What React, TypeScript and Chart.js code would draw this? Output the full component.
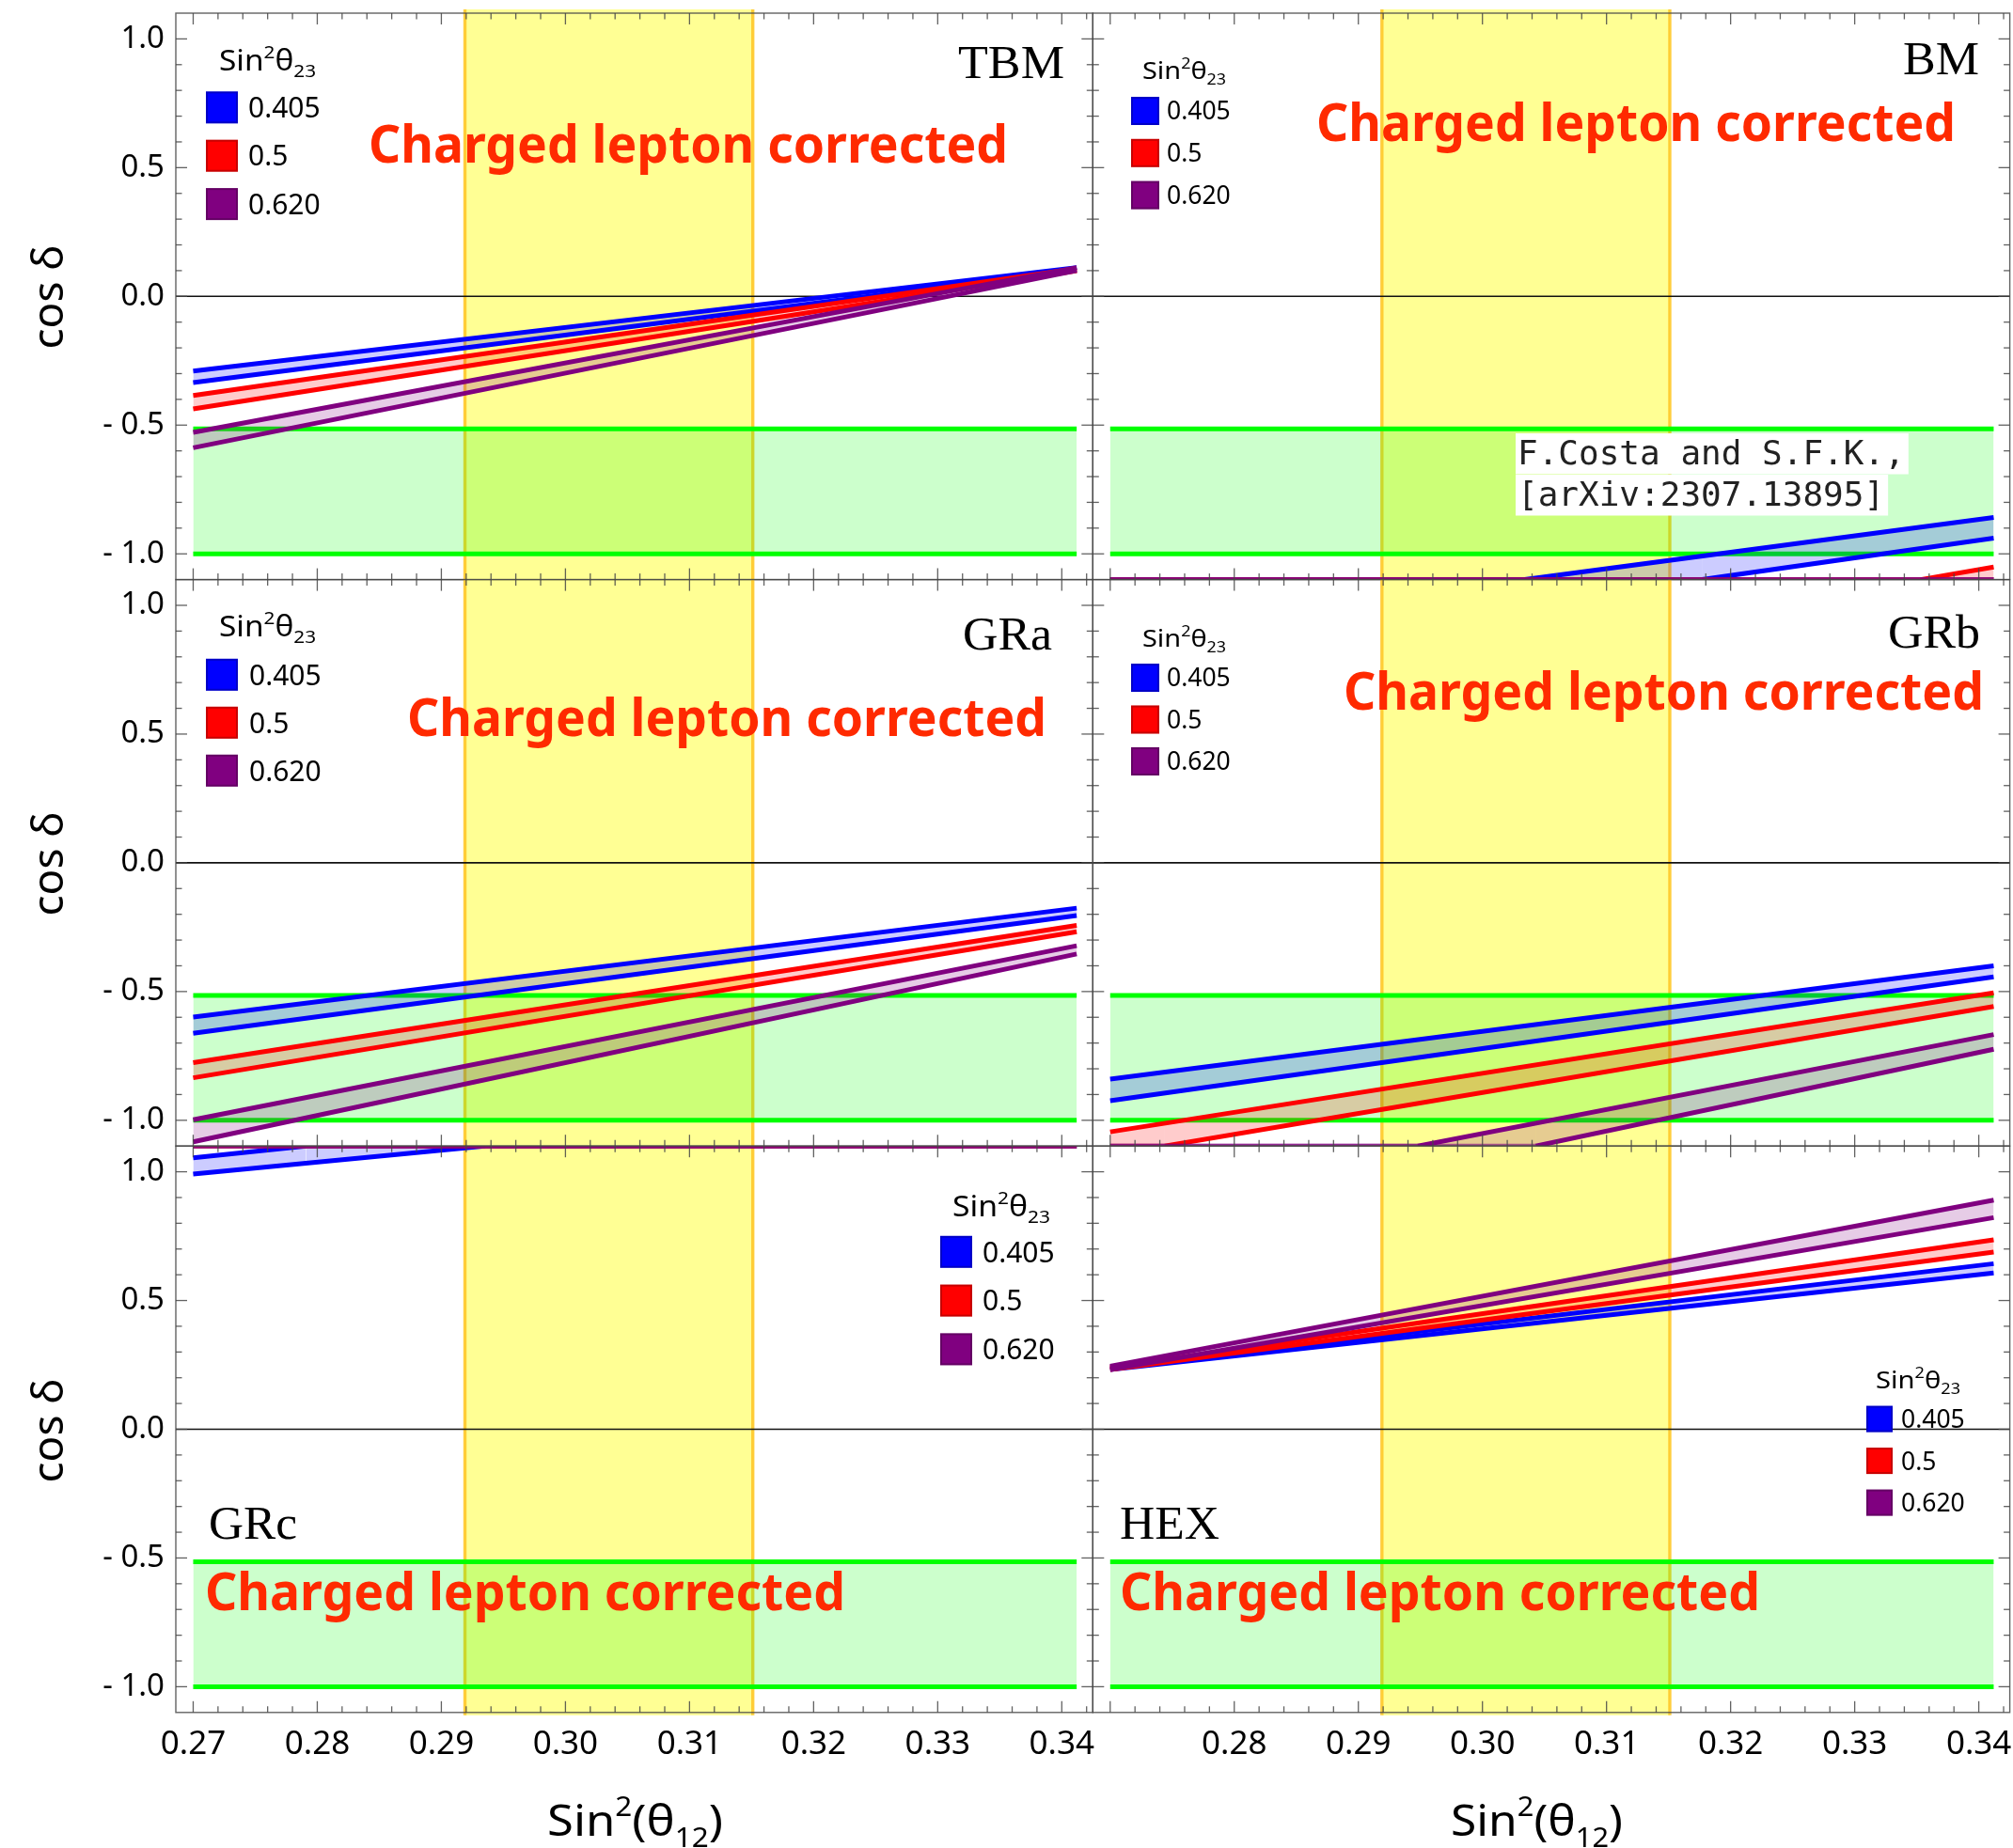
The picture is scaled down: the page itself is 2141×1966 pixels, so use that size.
import React, { useEffect, useRef } from 'react';
import { Chart, registerables } from 'chart.js';

Chart.register(...registerables);

type Pt = [number, number];

// ---------------- data ----------------
const X_TICKS = [0.27, 0.28, 0.29, 0.3, 0.31, 0.32, 0.33, 0.34];
const Y_TICKS = [-1.0, -0.5, 0.0, 0.5, 1.0];
const SIN23_VALUES = ['0.405', '0.5', '0.620'];
const YELLOW_BAND: Pt = [0.2919, 0.3151];
const GREEN_UPPER: Pt[] = [[0.27, -0.515], [0.3412, -0.515]];
const GREEN_LOWER: Pt[] = [[0.27, -1.0], [0.3412, -1.0]];

// TBM
const TBM_BLUE_UP: Pt[] = [[0.27, -0.29], [0.3412, 0.112]];
const TBM_BLUE_LO: Pt[] = [[0.27, -0.335], [0.3412, 0.103]];
const TBM_RED_UP: Pt[] = [[0.27, -0.385], [0.3412, 0.108]];
const TBM_RED_LO: Pt[] = [[0.27, -0.437], [0.3412, 0.1]];
const TBM_PURPLE_UP: Pt[] = [[0.27, -0.528], [0.3412, 0.112]];
const TBM_PURPLE_LO: Pt[] = [[0.27, -0.588], [0.3412, 0.1]];
// BM
const BM_BLUE_UP: Pt[] = [[0.27, -1.1], [0.3034, -1.1], [0.3412, -0.859]];
const BM_BLUE_LO: Pt[] = [[0.27, -1.1], [0.3177, -1.1], [0.3412, -0.939]];
const BM_RED_UP: Pt[] = [[0.27, -1.1], [0.3353, -1.1], [0.3412, -1.051]];
const BM_RED_LO: Pt[] = [[0.27, -1.1], [0.3412, -1.1]];
const BM_PURPLE_UP: Pt[] = [[0.27, -1.1], [0.3412, -1.1]];
const BM_PURPLE_LO: Pt[] = [[0.27, -1.1], [0.3412, -1.1]];
// GRa
const GRA_BLUE_UP: Pt[] = [[0.27, -0.599], [0.3412, -0.176]];
const GRA_BLUE_LO: Pt[] = [[0.27, -0.662], [0.3412, -0.205]];
const GRA_RED_UP: Pt[] = [[0.27, -0.776], [0.3412, -0.243]];
const GRA_RED_LO: Pt[] = [[0.27, -0.835], [0.3412, -0.268]];
const GRA_PURPLE_UP: Pt[] = [[0.27, -0.998], [0.3412, -0.322]];
const GRA_PURPLE_LO: Pt[] = [[0.27, -1.084], [0.3412, -0.354]];
// GRb
const GRB_BLUE_UP: Pt[] = [[0.27, -0.84], [0.3412, -0.4]];
const GRB_BLUE_LO: Pt[] = [[0.27, -0.924], [0.3412, -0.443]];
const GRB_RED_UP: Pt[] = [[0.27, -1.045], [0.3412, -0.505]];
const GRB_RED_LO: Pt[] = [[0.27, -1.1], [0.2744, -1.1], [0.3412, -0.558]];
const GRB_PURPLE_UP: Pt[] = [[0.27, -1.1], [0.2948, -1.1], [0.3412, -0.667]];
const GRB_PURPLE_LO: Pt[] = [[0.27, -1.1], [0.3043, -1.1], [0.3412, -0.724]];
// GRc
const GRC_BLUE_UP: Pt[] = [[0.27, 1.054], [0.2791, 1.1], [0.3412, 1.1]];
const GRC_BLUE_LO: Pt[] = [[0.27, 0.991], [0.2935, 1.1], [0.3412, 1.1]];
const GRC_RED_UP: Pt[] = [[0.27, 1.1], [0.3412, 1.1]];
const GRC_RED_LO: Pt[] = [[0.27, 1.1], [0.3412, 1.1]];
const GRC_PURPLE_UP: Pt[] = [[0.27, 1.1], [0.3412, 1.1]];
const GRC_PURPLE_LO: Pt[] = [[0.27, 1.1], [0.3412, 1.1]];
// HEX
const HEX_BLUE_UP: Pt[] = [[0.27, 0.238], [0.3412, 0.643]];
const HEX_BLUE_LO: Pt[] = [[0.27, 0.232], [0.3412, 0.607]];
const HEX_RED_UP: Pt[] = [[0.27, 0.24], [0.3412, 0.736]];
const HEX_RED_LO: Pt[] = [[0.27, 0.232], [0.3412, 0.688]];
const HEX_PURPLE_UP: Pt[] = [[0.27, 0.245], [0.3412, 0.89]];
const HEX_PURPLE_LO: Pt[] = [[0.27, 0.232], [0.3412, 0.822]];

// ---------------- layout / style ----------------
const W = 2141;
const H = 1966;
const M = 80; // canvas margin beyond the page on every side
const X_MIN = 0.2686;
const X_MAX = 0.3425;
const Y_MIN = -1.1;
const Y_MAX = 1.1;
const COLS: Pt[] = [[187, 1162.3], [1162.3, 2137.6]];
const ROWS: Pt[] = [[14, 616.6], [616.6, 1219.2], [1219.2, 1821.8]];
const YAXIS_W = 150;
const XAXIS_H = 100;
const LINE_W = 5;

const LINE_COLORS = ['#0000ff', '#ff0000', '#800080'];
const FILL_COLORS = ['rgba(0,0,255,0.2)', 'rgba(255,0,0,0.2)', 'rgba(128,0,128,0.2)'];
const EDGE_COLORS = ['rgba(0,0,255,0.5)', 'rgba(255,0,0,0.5)', 'rgba(128,0,128,0.6)'];
const SANS = "'Noto Sans', 'DejaVu Sans', sans-serif";
const SERIF = "'Liberation Serif', 'DejaVu Serif', serif";
const MONO = "'DejaVu Sans Mono', 'Liberation Mono', monospace";
const CLC_TEXT = 'Charged lepton corrected';
const CLC_COLOR = 'rgb(255,42,0)';

type Legend = {
  x: number; top: number; size: number; step: number; labelX: number; font: number;
  titleX: number; titleBase: number; titleW: number; titleSize: number;
};
type Panel = {
  name: string; col: number; row: number;
  bands: Pt[][][]; // [color][upper, lower]
  label: { x: number; base: number; w: number };
  clc: { x: number; base: number; w: number };
  legend: Legend;
  cite?: boolean;
};

const PANELS: Panel[] = [
  {
    name: 'TBM', col: 0, row: 0,
    bands: [[TBM_BLUE_UP, TBM_BLUE_LO], [TBM_RED_UP, TBM_RED_LO], [TBM_PURPLE_UP, TBM_PURPLE_LO]],
    label: { x: 1019, base: 83, w: 113 },
    clc: { x: 392, base: 173, w: 680 },
    legend: { x: 219, top: 97.3, size: 34, step: 51.4, labelX: 264, font: 30, titleX: 233, titleBase: 75, titleW: 103, titleSize: 30 },
  },
  {
    name: 'BM', col: 1, row: 0,
    bands: [[BM_BLUE_UP, BM_BLUE_LO], [BM_RED_UP, BM_RED_LO], [BM_PURPLE_UP, BM_PURPLE_LO]],
    label: { x: 2024, base: 79, w: 81 },
    clc: { x: 1400, base: 150, w: 680 },
    legend: { x: 1203, top: 103, size: 30, step: 44.8, labelX: 1241, font: 26.5, titleX: 1215, titleBase: 84, titleW: 89, titleSize: 26 },
    cite: true,
  },
  {
    name: 'GRa', col: 0, row: 1,
    bands: [[GRA_BLUE_UP, GRA_BLUE_LO], [GRA_RED_UP, GRA_RED_LO], [GRA_PURPLE_UP, GRA_PURPLE_LO]],
    label: { x: 1024, base: 691, w: 95 },
    clc: { x: 433, base: 783, w: 680 },
    legend: { x: 219, top: 700.8, size: 34, step: 51, labelX: 265, font: 30, titleX: 233, titleBase: 677, titleW: 103, titleSize: 30 },
  },
  {
    name: 'GRb', col: 1, row: 1,
    bands: [[GRB_BLUE_UP, GRB_BLUE_LO], [GRB_RED_UP, GRB_RED_LO], [GRB_PURPLE_UP, GRB_PURPLE_LO]],
    label: { x: 2008, base: 689, w: 98 },
    clc: { x: 1429, base: 755, w: 681 },
    legend: { x: 1203, top: 706, size: 30, step: 44.5, labelX: 1241, font: 26.5, titleX: 1215, titleBase: 688, titleW: 89, titleSize: 26 },
  },
  {
    name: 'GRc', col: 0, row: 2,
    bands: [[GRC_BLUE_UP, GRC_BLUE_LO], [GRC_RED_UP, GRC_RED_LO], [GRC_PURPLE_UP, GRC_PURPLE_LO]],
    label: { x: 222, base: 1637, w: 94 },
    clc: { x: 218, base: 1713, w: 681 },
    legend: { x: 1000, top: 1314.8, size: 34, step: 51.8, labelX: 1045, font: 30, titleX: 1013, titleBase: 1294, titleW: 104, titleSize: 30 },
  },
  {
    name: 'HEX', col: 1, row: 2,
    bands: [[HEX_BLUE_UP, HEX_BLUE_LO], [HEX_RED_UP, HEX_RED_LO], [HEX_PURPLE_UP, HEX_PURPLE_LO]],
    label: { x: 1191, base: 1637, w: 106 },
    clc: { x: 1191, base: 1713, w: 681 },
    legend: { x: 1985, top: 1495.6, size: 28, step: 44.5, labelX: 2022, font: 26.5, titleX: 1995, titleBase: 1477, titleW: 90, titleSize: 26 },
  },
];

const Y_TITLE_CENTERS = [316, 919, 1522];
const X_TITLES = [{ x: 582, w: 187 }, { x: 1543, w: 183 }];
const X_TITLE_BASE = 1953;

// ---------------- helpers ----------------
type Run = { t: string; scale?: number; dy?: number };

function drawRuns(
  ctx: CanvasRenderingContext2D, runs: Run[], x: number, base: number, size: number,
  family: string, targetW?: number, color = '#000', weight = 'normal'
) {
  ctx.save();
  const widths = runs.map((r) => {
    ctx.font = `${weight} ${size * (r.scale ?? 1)}px ${family}`;
    return ctx.measureText(r.t).width;
  });
  const total = widths.reduce((a, b) => a + b, 0);
  const sx = targetW ? targetW / total : 1;
  ctx.translate(x, base);
  ctx.scale(sx, 1);
  ctx.fillStyle = color;
  ctx.textBaseline = 'alphabetic';
  ctx.textAlign = 'left';
  let cx = 0;
  runs.forEach((r, i) => {
    ctx.font = `${weight} ${size * (r.scale ?? 1)}px ${family}`;
    ctx.fillText(r.t, cx, (r.dy ?? 0) * size);
    cx += widths[i];
  });
  ctx.restore();
}

function seg(ctx: CanvasRenderingContext2D, x0: number, y0: number, x1: number, y1: number) {
  ctx.beginPath();
  ctx.moveTo(x0, y0);
  ctx.lineTo(x1, y1);
  ctx.stroke();
}

function makeDeco(p: Panel) {
  return {
    id: 'panelDeco' + p.name,
    beforeDatasetsDraw(chart: any) {
      const { ctx, chartArea: a } = chart;
      const xs = chart.scales.x;
      const ys = chart.scales.y;
      ctx.save();
      const x0 = xs.getPixelForValue(YELLOW_BAND[0]);
      const x1 = xs.getPixelForValue(YELLOW_BAND[1]);
      const yt = p.row === 0 ? a.top - 4 : a.top;
      const yb = p.row === 2 ? a.bottom + 3 : a.bottom;
      ctx.fillStyle = 'rgba(255,255,0,0.42)';
      ctx.fillRect(x0, yt, x1 - x0, yb - yt);
      ctx.strokeStyle = 'rgba(255,200,40,0.9)';
      ctx.lineWidth = 3.4;
      seg(ctx, x0, yt, x0, yb);
      seg(ctx, x1, yt, x1, yb);
      const y0 = ys.getPixelForValue(0);
      ctx.strokeStyle = '#111';
      ctx.lineWidth = 1.6;
      seg(ctx, a.left, y0, a.right, y0);
      ctx.restore();
    },
    afterDatasetsDraw(chart: any) {
      const { ctx, chartArea: a } = chart;
      const xs = chart.scales.x;
      const ys = chart.scales.y;
      ctx.save();
      // frame
      ctx.strokeStyle = 'rgba(70,70,70,0.85)';
      ctx.lineWidth = 1.4;
      ctx.strokeRect(a.left, a.top, a.right - a.left, a.bottom - a.top);
      // ticks (inward on all four sides)
      ctx.lineWidth = 1.3;
      for (let k = -1; k <= 37; k++) {
        const v = 0.27 + 0.002 * k;
        if (v < X_MIN || v > X_MAX) continue;
        const px = xs.getPixelForValue(v);
        const len = k % 5 === 0 ? 12 : 6.5;
        seg(ctx, px, a.bottom, px, a.bottom - len);
        seg(ctx, px, a.top, px, a.top + len);
      }
      for (let k = -10; k <= 10; k++) {
        const py = ys.getPixelForValue(k / 10);
        const len = k % 5 === 0 ? 12 : 6.5;
        seg(ctx, a.left, py, a.left + len, py);
        seg(ctx, a.right, py, a.right - len, py);
      }
      ctx.restore();

      // everything below is placed in page coordinates
      ctx.save();
      ctx.translate(M, M);
      // panel label (serif)
      drawRuns(ctx, [{ t: p.name }], p.label.x, p.label.base, 51, SERIF, p.label.w);
      // red annotation
      drawRuns(ctx, [{ t: CLC_TEXT }], p.clc.x, p.clc.base, 55, SANS, p.clc.w, CLC_COLOR, 'bold');

      // legend
      const L = p.legend;
      drawRuns(
        ctx,
        [{ t: 'Sin' }, { t: '2', scale: 0.62, dy: -0.42 }, { t: 'θ' }, { t: '23', scale: 0.62, dy: 0.22 }],
        L.titleX, L.titleBase, L.titleSize, SANS, L.titleW
      );
      SIN23_VALUES.forEach((lab, i) => {
        const top = L.top + i * L.step;
        ctx.save();
        ctx.fillStyle = LINE_COLORS[i];
        ctx.fillRect(L.x, top, L.size, L.size);
        ctx.strokeStyle = 'rgba(0,0,0,0.22)';
        ctx.lineWidth = 2;
        ctx.strokeRect(L.x + 1, top + 1, L.size - 2, L.size - 2);
        ctx.restore();
        drawRuns(ctx, [{ t: lab }], L.labelX, top + L.size / 2 + L.font * 0.357, L.font, SANS);
      });

      // citation
      if (p.cite) {
        const lines = ['F.Costa and S.F.K.,', '[arXiv:2307.13895]'];
        const bases = [494, 538];
        ctx.save();
        ctx.font = `36px ${MONO}`;
        lines.forEach((t, i) => {
          const w = ctx.measureText(t).width;
          ctx.fillStyle = '#fff';
          ctx.fillRect(1612, bases[i] - 33, w + 6, 43.5);
        });
        lines.forEach((t, i) => {
          ctx.fillStyle = '#222';
          ctx.textBaseline = 'alphabetic';
          ctx.fillText(t, 1614, bases[i]);
        });
        ctx.restore();
      }

      // y axis title
      if (p.col === 0) {
        ctx.save();
        ctx.translate(67, Y_TITLE_CENTERS[p.row]);
        ctx.rotate(-Math.PI / 2);
        ctx.font = `46px ${SANS}`;
        ctx.fillStyle = '#000';
        ctx.textAlign = 'center';
        ctx.textBaseline = 'alphabetic';
        ctx.fillText('cos δ', 0, 0);
        ctx.restore();
      }
      // x axis title
      if (p.row === 2) {
        const t = X_TITLES[p.col];
        drawRuns(
          ctx,
          [{ t: 'Sin' }, { t: '2', scale: 0.62, dy: -0.45 }, { t: '(θ' }, { t: '12', scale: 0.62, dy: 0.25 }, { t: ')' }],
          t.x, X_TITLE_BASE, 46, SANS, t.w
        );
      }
      ctx.restore();
    },
  };
}

function toPts(a: Pt[]) {
  return a.map(([x, y]) => ({ x, y }));
}

function lineDs(data: Pt[], color: string, edge: string, order: number, fill: any, bg?: string) {
  return {
    data: toPts(data),
    borderColor: color,
    borderWidth: LINE_W,
    pointRadius: 0,
    tension: 0,
    order,
    fill,
    backgroundColor: bg ?? 'rgba(0,0,0,0)',
    segment: {
      borderColor: (c: any) =>
        c.p0.parsed.y === c.p1.parsed.y && Math.abs(c.p0.parsed.y) >= 1.0999 ? edge : undefined,
    },
  };
}

function makeChart(canvas: HTMLCanvasElement, p: Panel) {
  const showY = p.col === 0;
  const showX = p.row === 2;
  const [cl, cr] = COLS[p.col];
  const [rt, rb] = ROWS[p.row];
  const datasets: any[] = [];
  datasets.push(lineDs(GREEN_LOWER, '#00ff00', '#00ff00', 100, false));
  datasets.push(lineDs(GREEN_UPPER, '#00ff00', '#00ff00', 100, '-1', 'rgba(0,255,0,0.2)'));
  p.bands.forEach((b, i) => {
    const order = 30 - i * 10;
    datasets.push(lineDs(b[1], LINE_COLORS[i], EDGE_COLORS[i], order, false));
    datasets.push(lineDs(b[0], LINE_COLORS[i], EDGE_COLORS[i], order, '-1', FILL_COLORS[i]));
  });
  const xTicks = p.col === 0 ? X_TICKS : X_TICKS.slice(1);
  const xScale: any = {
    type: 'linear',
    min: X_MIN,
    max: X_MAX,
    display: showX,
    grid: { display: false, drawTicks: false },
    border: { display: false },
    afterBuildTicks: (s: any) => {
      s.ticks = xTicks.map((v) => ({ value: v }));
    },
    ticks: {
      autoSkip: false,
      maxRotation: 0,
      padding: 13,
      color: '#000',
      font: { family: SANS, size: 35 },
      callback: (v: any) => Number(v).toFixed(2),
    },
  };
  if (showX) xScale.afterFit = (s: any) => { s.height = XAXIS_H; };
  const yScale: any = {
    type: 'linear',
    min: Y_MIN,
    max: Y_MAX,
    display: showY,
    grid: { display: false, drawTicks: false },
    border: { display: false },
    afterBuildTicks: (s: any) => {
      s.ticks = Y_TICKS.map((v) => ({ value: v }));
    },
    ticks: {
      autoSkip: false,
      padding: 12,
      color: '#000',
      font: { family: SANS, size: 33 },
      callback: (v: any) => {
        const n = Number(v);
        return n < 0 ? '- ' + Math.abs(n).toFixed(1) : n.toFixed(1);
      },
    },
  };
  if (showY) yScale.afterFit = (s: any) => { s.width = YAXIS_W; };
  return new Chart(canvas, {
    type: 'line',
    data: { datasets },
    plugins: [makeDeco(p)],
    options: {
      responsive: false,
      animation: false,
      devicePixelRatio: 1,
      layout: {
        autoPadding: false,
        padding: {
          left: cl + M - (showY ? YAXIS_W : 0),
          right: W + M - cr,
          top: rt + M,
          bottom: H + M - rb - (showX ? XAXIS_H : 0),
        },
      },
      plugins: { legend: { display: false }, tooltip: { enabled: false } },
      scales: { x: xScale, y: yScale },
    } as any,
  });
}

export default function App() {
  const refs = useRef<(HTMLCanvasElement | null)[]>([]);
  useEffect(() => {
    const charts = PANELS.map((p, i) => makeChart(refs.current[i] as HTMLCanvasElement, p));
    return () => charts.forEach((c) => c.destroy());
  }, []);
  return (
    <div style={{ position: 'absolute', left: 0, top: 0, width: W, height: H, background: '#fff', overflow: 'hidden' }}>
      {PANELS.map((p, i) => (
        <canvas
          key={p.name}
          ref={(el) => {
            refs.current[i] = el;
          }}
          width={W + 2 * M}
          height={H + 2 * M}
          style={{ position: 'absolute', left: -M, top: -M, width: W + 2 * M, height: H + 2 * M }}
        />
      ))}
    </div>
  );
}
